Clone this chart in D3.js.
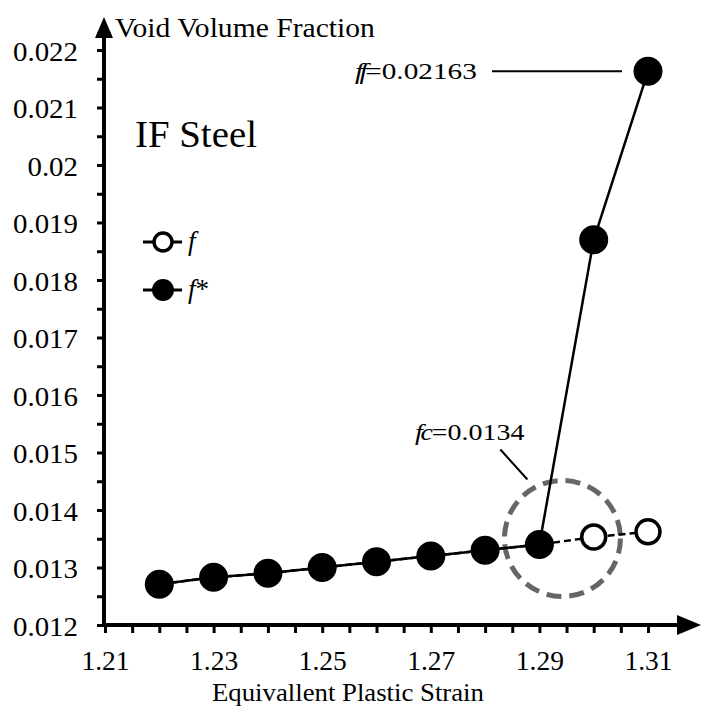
<!DOCTYPE html>
<html>
<head>
<meta charset="utf-8">
<script src="https://cdn.jsdelivr.net/npm/d3@7"></script>
<style>
  body { margin: 0; background: #fff; }
  svg { display: block; }
</style>
</head>
<body>
<svg id="chart" width="701" height="706"></svg>
<script>
// Equivalent plastic strain (x) and void volume fractions (y)
const strain = [1.22, 1.23, 1.24, 1.25, 1.26, 1.27, 1.28, 1.29, 1.30, 1.31];
const fStar  = [0.01271, 0.01283, 0.0129, 0.0130, 0.0131, 0.0132, 0.0133, 0.0134, 0.0187, 0.02163];
const fVoid  = [0.01271, 0.01283, 0.0129, 0.0130, 0.0131, 0.0132, 0.0133, 0.0134, 0.01353, 0.01362];

const xTickLabels = ["1.21", "1.23", "1.25", "1.27", "1.29", "1.31"];
const yTickLabels = ["0.012", "0.013", "0.014", "0.015", "0.016", "0.017",
                     "0.018", "0.019", "0.02", "0.021", "0.022"];

const criticalPoint = { x: 1.29, y: 0.0134 };   // fc
const failurePoint  = { x: 1.31, y: 0.02163 };  // ff

const FONT = "'Liberation Serif'";

const svg = d3.select("#chart");
const x = d3.scaleLinear([1.21, 1.31], [105, 648]);
const y = d3.scaleLinear([0.012, 0.022], [625, 50]);

// Stretch a text horizontally about its anchor point so it spans the given width
function stretch(sel, width) {
  sel.each(function () {
    const t = d3.select(this);
    const w = this.getComputedTextLength();
    const tx = +t.attr("x") || 0, ty = +t.attr("y") || 0;
    const s = width / w;
    t.attr("transform", `translate(${tx},${ty}) scale(${s},1) translate(${-tx},${-ty})`);
  });
}

function addText(parent, px, py, size) {
  return parent.append("text").attr("x", px).attr("y", py)
    .style("font-family", FONT).style("font-size", size + "px").attr("fill", "#000");
}

// ---- axes ----
const xTicks = d3.range(0, 21).map(i => +(1.21 + i * 0.005).toFixed(3));
const yTicks = d3.range(0, 21).map(i => +(0.012 + i * 0.0005).toFixed(4));

const xAxis = d3.axisBottom(x)
  .tickValues(xTicks)
  .tickSize(8)
  .tickFormat((d, i) => i % 4 === 0 ? xTickLabels[i / 4] : "");

const gx = svg.append("g").attr("transform", `translate(0,${y(0.012)})`).call(xAxis);
gx.attr("font-family", null);
gx.select(".domain").remove();
gx.selectAll(".tick line").attr("y1", -1).attr("y2", 8).attr("stroke", "#000").attr("stroke-width", 3);
gx.selectAll(".tick text")
  .attr("y", 45).attr("dy", null)
  .style("font-family", FONT)
  .style("font-size", "27.5px")
  .attr("fill", "#000");

const yAxis = d3.axisLeft(y).tickValues(yTicks).tickSize(7)
  .tickFormat((d, i) => i % 2 === 0 ? yTickLabels[i / 2] : "");
const gy = svg.append("g").attr("transform", `translate(${x(1.21) - 1},0)`).call(yAxis);
gy.attr("font-family", null);
gy.select(".domain").remove();
gy.selectAll(".tick line").attr("x1", -7).attr("x2", 0).attr("stroke", "#000").attr("stroke-width", 3);
gy.selectAll(".tick text")
  .attr("x", -26).attr("dy", null).attr("y", 10)
  .style("font-family", FONT)
  .style("font-size", "27px")
  .attr("fill", "#000");
gy.selectAll(".tick text").each(function () {
  const w = this.getComputedTextLength();
  if (w > 0) d3.select(this).attr("textLength", w * 1.07).attr("lengthAdjust", "spacingAndGlyphs");
});

// axis lines with arrow heads
const ax = x(1.21) - 1, ay = y(0.012);
svg.append("line").attr("x1", ax).attr("x2", ax).attr("y1", ay + 2).attr("y2", 34)
  .attr("stroke", "#000").attr("stroke-width", 4);
svg.append("path").attr("d", `M${ax},17 L${ax - 9},38 L${ax + 9},38 Z`).attr("fill", "#000");
svg.append("line").attr("x1", ax - 2).attr("x2", 682).attr("y1", ay).attr("y2", ay)
  .attr("stroke", "#000").attr("stroke-width", 4);
svg.append("path").attr("d", `M701,${ay} L677,${ay - 10} L677,${ay + 10} Z`).attr("fill", "#000");

// axis titles
addText(svg, 115, 37, 27).text("Void Volume Fraction").call(stretch, 260);
addText(svg, 212, 701, 26).text("Equivallent Plastic Strain").call(stretch, 272);
addText(svg, 135, 147, 38).text("IF Steel").call(stretch, 122);

// ---- critical region marker ----
const cx = x(criticalPoint.x) + 23, cy = y(criticalPoint.y) - 6;
svg.append("circle").attr("cx", cx).attr("cy", cy).attr("r", 58)
  .attr("fill", "none").attr("stroke", "#666").attr("stroke-width", 5)
  .attr("stroke-dasharray", "15 8");

// ---- series ----
const ptsF = strain.map((s, i) => [s, fVoid[i]]);
const ptsS = strain.map((s, i) => [s, fStar[i]]);
const line = d3.line().x(d => x(d[0])).y(d => y(d[1]));

svg.append("path").datum(ptsF).attr("d", line)
  .attr("fill", "none").attr("stroke", "#000").attr("stroke-width", 2.5)
  .attr("stroke-dasharray", "7 4");
svg.append("g").selectAll("circle").data(ptsF).join("circle")
  .attr("cx", d => x(d[0])).attr("cy", d => y(d[1])).attr("r", 12)
  .attr("fill", "#fff").attr("stroke", "#000").attr("stroke-width", 3.5);

svg.append("path").datum(ptsS).attr("d", line)
  .attr("fill", "none").attr("stroke", "#000").attr("stroke-width", 2.5);
svg.append("g").selectAll("circle").data(ptsS).join("circle")
  .attr("cx", d => x(d[0])).attr("cy", d => y(d[1])).attr("r", 14.5)
  .attr("fill", "#000");

// ---- annotations ----
const fx = x(failurePoint.x), fy = y(failurePoint.y);
svg.append("line").attr("x1", fx - 156).attr("x2", fx - 26).attr("y1", fy).attr("y2", fy)
  .attr("stroke", "#000").attr("stroke-width", 2);
const tf = addText(svg, 355, fy + 8, 24);
tf.append("tspan").style("font-style", "italic").text("f");
tf.append("tspan").style("font-style", "italic").attr("dx", -3).text("f");
tf.append("tspan").attr("dx", -2).text("=" + failurePoint.y.toFixed(5));
stretch(tf, 128);

const tc = addText(svg, 415, 440, 24);
tc.append("tspan").style("font-style", "italic").text("f");
tc.append("tspan").style("font-style", "italic").attr("dx", -2).text("c");
tc.append("tspan").attr("dx", -1).text("=" + criticalPoint.y.toFixed(4));
stretch(tc, 113);
svg.append("line").attr("x1", cx - 62).attr("y1", cy - 89).attr("x2", cx - 35).attr("y2", cy - 59)
  .attr("stroke", "#000").attr("stroke-width", 2);

// ---- legend ----
const legend = svg.append("g");
const legendRows = [
  { y: 242, fill: "#fff", r: 9, sw: 3.5, label: "f", star: false },
  { y: 290, fill: "#000", r: 11, sw: 0, label: "f", star: true }
];
legendRows.forEach(row => {
  legend.append("line").attr("x1", 143).attr("x2", 182).attr("y1", row.y).attr("y2", row.y)
    .attr("stroke", "#000").attr("stroke-width", 3);
  legend.append("circle").attr("cx", 163).attr("cy", row.y).attr("r", row.r)
    .attr("fill", row.fill).attr("stroke", row.sw ? "#000" : "none").attr("stroke-width", row.sw);
  const t = addText(legend, 188, row.y + 8, 27);
  t.append("tspan").style("font-style", "italic").text(row.label);
  if (row.star) t.append("tspan").text("*");
});
</script>
</body>
</html>
